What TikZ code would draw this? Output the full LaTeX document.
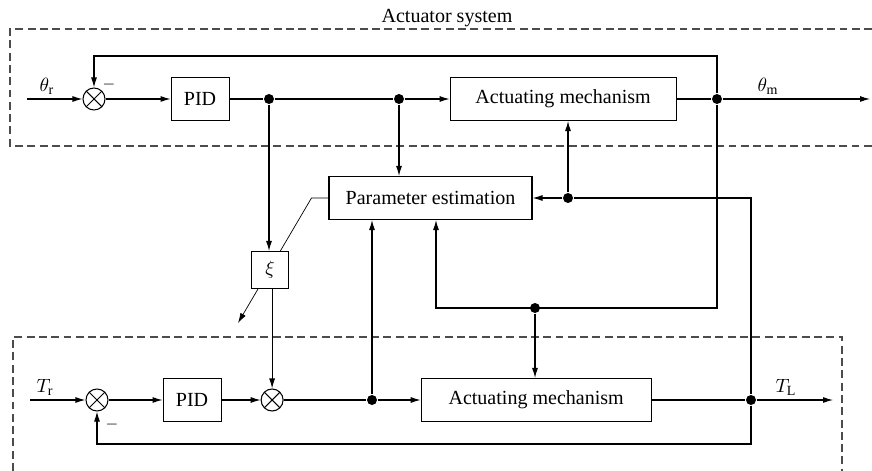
\documentclass[tikz,border=0pt]{standalone}
\usepackage{amsmath}
\usepackage{fontspec}
\setmainfont{Liberation Serif}
\usetikzlibrary{arrows.meta, positioning, calc, backgrounds}

\begin{document}
\begin{tikzpicture}[node distance=1cm, >={Latex[length=2mm, width=1.2mm]}, line width=0.6pt,
        font=\fontsize{11.4}{13.5}\selectfont,
        block/.style={rectangle, draw, minimum height=0.86cm, inner sep=2pt},
        sum/.style={circle, draw, minimum size=0.44cm, inner sep=0pt,
            path picture={\draw (path picture bounding box.north west) -- (path picture bounding box.south east)
                (path picture bounding box.north east) -- (path picture bounding box.south west);}},
        dot/.style={circle, fill, inner sep=0pt, minimum size=2mm},
        frame/.style={dashed, dash pattern=on 4.5pt off 2.5pt, black!70}]
            \useasboundingbox (0,0) rectangle (17.44,-9.42);

            % top loop
            \node[sum] (s1) at (1.88,-1.98) {};
            \node[block, minimum width=1.16cm, right=1.3cm of s1] (pid1) {PID};
            \node[block, minimum width=4.52cm, right=4.4cm of pid1] (act1) {Actuating mechanism};
            \node[dot] (d1) at (5.38,-1.98) {};
            \node[dot] (d2) at (7.98,-1.98) {};
            \node[dot] (d3) at (14.34,-1.98) {};
            \coordinate (in1) at (0.54,-1.98);
            \coordinate (out1) at (17.40,-1.98);

            % estimator
            \node[block, minimum width=4.06cm] (est) at (8.61,-3.96) {Parameter estimation};
            \node[block, minimum size=0.74cm, inner sep=0pt, fill=white] (xi) at (5.40,-5.40) {$\xi$};
            \node[dot] (d7) at (11.36,-3.96) {};
            \node[dot] (d6) at (10.70,-6.16) {};
            \coordinate (fb2) at (8.72,-6.16);

            % bottom loop
            \node[sum] (s2) at (1.94,-8.00) {};
            \node[block, minimum width=1.16cm, right=1.08cm of s2] (pid2) {PID};
            \node[sum, right=0.78cm of pid2] (s3) {};
            \node[block, minimum width=4.6cm, right=2.74cm of s3] (act2) {Actuating mechanism};
            \node[dot] (d4) at (7.44,-8.00) {};
            \node[dot] (d5) at (15.02,-8.00) {};
            \coordinate (in2) at (0.60,-8.00);
            \coordinate (out2) at (16.66,-8.00);

            % labels
            \node (title) at (8.94,-0.36) {Actuator system};
            \node (thr) at (0.94,-1.72) {$\theta_{\mathrm{r}}$};
            \node (thm) at (15.36,-1.72) {$\theta_{\mathrm{m}}$};
            \node (tr) at (0.90,-7.74) {$T_{\mathrm{r}}$};
            \node (tl) at (15.72,-7.74) {$T_{\mathrm{L}}$};
            \node[font=\small] (m1) at (2.18,-1.70) {$-$};
            \node[font=\small] (m2) at (2.24,-8.50) {$-$};

            % frames
            \draw[frame] (17.44,-0.58) -| (0.20,-2.92) -- (17.44,-2.92);
            \draw[frame] (0.26,-9.42) |- (16.84,-6.74) -- (16.84,-9.42);

            % top connections
            \draw[->] (in1) -- (s1);
            \draw[->] (s1) -- (pid1);
            \draw (pid1) -- (d1) -- (d2);
            \draw[->] (d2) -- (act1);
            \draw (act1) -- (d3);
            \draw[->] (d3) -- (out1);
            \draw[->] (d3) -- ++(0,0.86) -| (s1);
            \draw[->] (d1) -- (d1 |- xi.north);
            \draw[->] (d2) -- (d2 |- est.north);
            \draw[->] (d7) -- (d7 |- act1.south);
            \draw[->] (d5) |- (d7) -- (est);
            \draw[->] (d3) |- (fb2) -- (fb2 |- est.south);
            \draw[->] (d6) -- (d6 |- act2.north);
            \draw[->] (d4) -- (d4 |- est.south);
            \draw[->] (s3 |- xi.south) -- (s3);
            \begin{scope}[on background layer, line width=0.6pt]
                \draw[->] (est.west) -- ++(-0.34,0) -- (4.76,-6.46);
            \end{scope}

            % bottom connections
            \draw[->] (in2) -- (s2);
            \draw[->] (s2) -- (pid2);
            \draw[->] (pid2) -- (s3);
            \draw (s3) -- (d4);
            \draw[->] (d4) -- (act2);
            \draw (act2) -- (d5);
            \draw[->] (d5) -- (out2);
            \draw[->] (d5) -- ++(0,-0.88) -| (s2);
        \end{tikzpicture}
\end{document}
